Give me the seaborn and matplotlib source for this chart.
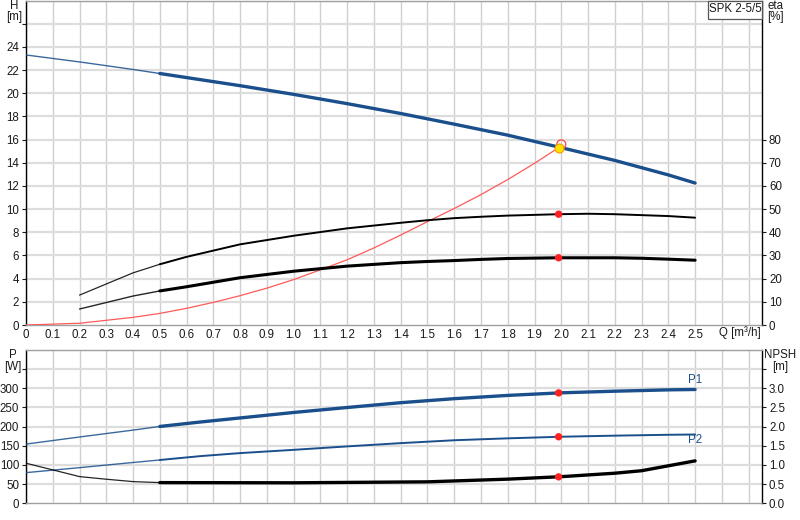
import numpy as np
import pandas as pd
import matplotlib
matplotlib.use("Agg")
import matplotlib.pyplot as plt
from matplotlib.patches import Rectangle
import seaborn as sns

# ---------------- data ----------------
q_h = [0, 0.2, 0.4, 0.5, 0.6, 0.8, 1.0, 1.2, 1.4, 1.6, 1.8, 2.0, 2.2, 2.4, 2.5]
head_m = [23.3, 22.7, 22.05, 21.7, 21.35, 20.65, 19.9, 19.1, 18.25, 17.33, 16.38, 15.3, 14.2, 12.95, 12.25]

q_sys = [0, 0.2, 0.4, 0.5, 0.6, 0.7, 0.8, 0.9, 1.0, 1.1, 1.2, 1.3, 1.4, 1.5, 1.6, 1.7, 1.8, 1.9, 2.0]
sys_head_m = [0, 0.15, 0.66, 1.0, 1.44, 1.95, 2.53, 3.18, 3.92, 4.76, 5.63, 6.65, 7.76, 8.92, 10.05, 11.25, 12.55, 13.95, 15.45]

q_eta = [0.2, 0.4, 0.5, 0.6, 0.8, 1.0, 1.2, 1.4, 1.5, 1.6, 1.7, 1.8, 1.99, 2.1, 2.2, 2.3, 2.4, 2.5]
eta_pump = [12.9, 22.5, 26.2, 29.4, 34.8, 38.5, 41.7, 44.1, 45.2, 46.1, 46.7, 47.2, 47.8, 48.0, 47.8, 47.4, 47.0, 46.3]
eta_total = [6.9, 12.5, 14.7, 16.5, 20.4, 23.2, 25.4, 26.9, 27.4, 27.8, 28.3, 28.7, 29.0, 29.0, 29.0, 28.8, 28.4, 27.95]

q_p = [0, 0.2, 0.4, 0.5, 0.65, 0.8, 1.0, 1.2, 1.4, 1.6, 1.8, 2.0, 2.2, 2.4, 2.5]
p1_w = [154.5, 173, 191, 200.5, 212, 222.7, 237, 250, 262.5, 273, 281.5, 288.3, 292.5, 296, 297]
p2_w = [80, 93, 106.5, 113, 123, 131, 139.5, 148.5, 157, 164.5, 169.5, 173.7, 176.5, 178.8, 179.5]

q_npsh = [0, 0.2, 0.3, 0.4, 0.5, 1.0, 1.5, 1.8, 2.0, 2.2, 2.3, 2.5]
npsh_m = [1.046, 0.697, 0.628, 0.566, 0.54, 0.535, 0.56, 0.63, 0.695, 0.785, 0.85, 1.107]

duty_q = 1.99
duty_head = 15.3
duty_eta_pump = 47.8
duty_eta_total = 29.0
duty_p1 = 288
duty_p2 = 173.6
duty_npsh = 0.69
eta_max_q = 2.0
eta_max_head = 15.58

x_ticks = [round(0.1 * i, 1) for i in range(0, 28)]
x_tick_labels = ["0"] + [f"{v:.1f}" for v in x_ticks[1:26]] + ["", ""]
h_ticks = list(range(0, 27, 2))
h_tick_labels = [str(v) for v in range(0, 25, 2)] + [""]
eta_ticks = list(range(0, 81, 10))
p_ticks = list(range(0, 351, 50))
p_tick_labels = [str(v) for v in range(0, 301, 50)] + [""]
npsh_ticks = [0.5 * i for i in range(0, 8)]
npsh_tick_labels = [f"{0.5*i:.1f}" for i in range(0, 7)] + [""]

title_text = "SPK 2-5/5"

# ---------------- style ----------------
sns.set_style("white")
plt.rcParams["font.family"] = ["Liberation Sans", "DejaVu Sans"]
plt.rcParams["font.size"] = 8

BLUE = "#1a4f8c"
RED = "#ff2020"
TXT = "#1a1a1a"
FS = 8.3

W, H = 800, 520
fig = plt.figure(figsize=(8, 5.2), dpi=100)
fig.patch.set_facecolor("white")

def fx(px):
    return px / W

def fy(py):
    return 1 - py / H

ax1 = fig.add_axes([fx(26), fy(325), fx(762) - fx(26), fy(0.5) - fy(325)])
ax2 = fig.add_axes([fx(26), fy(503.3), fx(762) - fx(26), fy(350) - fy(503.3)])

def style_axes(ax):
    ax.set_xlim(0, 2.75)
    ax.set_xticks(x_ticks)
    for v in x_ticks:
        ax.axvline(v, color="#cfcfcf", lw=1.0, zorder=0)
    ax.spines["left"].set_color("black")
    ax.spines["right"].set_color("black")
    ax.spines["top"].set_color("#a0a0a0")
    ax.spines["bottom"].set_color("#a0a0a0")
    for s in ax.spines.values():
        s.set_linewidth(1.0)

style_axes(ax1)
style_axes(ax2)

def split_line(ax, q, vals, color, thin, thick, q0=0.5, z=3):
    df = pd.DataFrame({"Q": q, "v": vals})
    sns.lineplot(data=df[df.Q <= q0], x="Q", y="v", ax=ax, color=color, lw=thin,
                 estimator=None, sort=False, zorder=z, alpha=0.85)
    sns.lineplot(data=df[df.Q >= q0], x="Q", y="v", ax=ax, color=color, lw=thick,
                 estimator=None, sort=False, zorder=z)

# ---------------- top panel ----------------
ax1.set_ylim(0, 28)
for v in range(2, 29, 2):
    ax1.axhline(v, color="#dddddd", lw=1.6, zorder=0)

split_line(ax1, q_h, head_m, BLUE, 1.0, 2.4)
df_sys = pd.DataFrame({"Q": q_sys, "H": sys_head_m})
sns.lineplot(data=df_sys, x="Q", y="H", ax=ax1, color="#ff5a5a", lw=0.9,
             estimator=None, sort=False, zorder=3)

ax1.set_yticks(h_ticks)
ax1.set_yticklabels(h_tick_labels)
ax1.set_xticks(x_ticks)
ax1.set_xticklabels(x_tick_labels)
ax1.tick_params(axis="x", length=0, pad=3, labelsize=FS, colors=TXT)
ax1.tick_params(axis="y", length=3, pad=2, labelsize=FS, colors=TXT, width=0.8)
ax1.set_xlim(0, 2.75)
ax1.set_xlabel("")
ax1.set_ylabel("")

ax1e = ax1.twinx()
ax1e.set_ylim(0, 140)
for s in ax1e.spines.values():
    s.set_visible(False)
split_line(ax1e, q_eta, eta_pump, "black", 0.9, 1.4)
split_line(ax1e, q_eta, eta_total, "black", 1.0, 2.2)
sns.scatterplot(x=[duty_q, duty_q], y=[duty_eta_pump, duty_eta_total], ax=ax1e,
                color=RED, s=28, edgecolor="none", zorder=5)
ax1e.scatter([eta_max_q], [eta_max_head * 5], s=42, facecolors="none",
             edgecolors="#ff4040", linewidths=0.9, zorder=6)
ax1e.scatter([duty_q], [duty_head * 5], s=42, color="#ffe000",
             edgecolors="#f0a000", linewidths=0.8, zorder=7)
ax1e.set_yticks(eta_ticks)
ax1e.tick_params(axis="y", length=3, pad=2, labelsize=FS, colors=TXT, width=0.8)
ax1e.set_xlim(0, 2.75)
ax1e.set_ylim(0, 140)
ax1e.set_xlabel("")
ax1e.set_ylabel("")

# ---------------- bottom panel ----------------
ax2.set_ylim(0, 400)
for v in range(50, 401, 50):
    ax2.axhline(v, color="#dddddd", lw=1.6, zorder=0)

split_line(ax2, q_p, p1_w, BLUE, 1.0, 2.4)
split_line(ax2, q_p, p2_w, BLUE, 1.0, 1.4)
sns.scatterplot(x=[duty_q, duty_q], y=[duty_p1, duty_p2], ax=ax2,
                color=RED, s=28, edgecolor="none", zorder=5)
ax2.text(2.5, 322, "P1", color=BLUE, fontsize=FS, ha="center", va="center")
ax2.text(2.5, 164, "P2", color=BLUE, fontsize=FS, ha="center", va="center")

ax2.set_yticks(p_ticks)
ax2.set_yticklabels(p_tick_labels)
ax2.set_xticks(x_ticks)
ax2.set_xticklabels([])
ax2.tick_params(axis="x", length=0)
ax2.tick_params(axis="y", length=3, pad=2, labelsize=FS, colors=TXT, width=0.8)
ax2.set_xlim(0, 2.75)
ax2.set_ylim(0, 400)
ax2.set_xlabel("")
ax2.set_ylabel("")

ax2n = ax2.twinx()
for s in ax2n.spines.values():
    s.set_visible(False)
split_line(ax2n, q_npsh, npsh_m, "black", 0.9, 2.4)
sns.scatterplot(x=[duty_q], y=[duty_npsh], ax=ax2n, color=RED, s=28,
                edgecolor="none", zorder=5)
ax2n.set_ylim(0, 4)
ax2n.set_yticks(npsh_ticks)
ax2n.set_yticklabels(npsh_tick_labels)
ax2n.tick_params(axis="y", length=3, pad=2, labelsize=FS, colors=TXT, width=0.8)
ax2n.set_xlim(0, 2.75)
ax2n.set_xlabel("")
ax2n.set_ylabel("")

# ---------------- axis captions ----------------
fig.text(fx(14), fy(6), "H", ha="center", va="center", fontsize=FS, color=TXT)
fig.text(fx(14), fy(17), "[m]", ha="center", va="center", fontsize=FS, color=TXT)
fig.text(fx(767), fy(6), "eta", ha="left", va="center", fontsize=FS, color=TXT)
fig.text(fx(767), fy(17), "[%]", ha="left", va="center", fontsize=FS, color=TXT)
fig.text(fx(13), fy(355), "P", ha="center", va="center", fontsize=FS, color=TXT)
fig.text(fx(13), fy(367), "[W]", ha="center", va="center", fontsize=FS, color=TXT)
fig.text(fx(780), fy(355), "NPSH", ha="center", va="center", fontsize=FS, color=TXT)
fig.text(fx(780), fy(367), "[m]", ha="center", va="center", fontsize=FS, color=TXT)
fig.text(fx(739.5), fy(333), "Q [m\u00b3/h]", ha="center", va="center", fontsize=FS, color=TXT)

box = Rectangle((fx(707.5), fy(19)), fx(762) - fx(707.5), fy(0.5) - fy(19),
                transform=fig.transFigure, facecolor="white", edgecolor="#555555",
                lw=0.9, zorder=10)
fig.add_artist(box)
fig.text(fx(735), fy(9.5), title_text, ha="center", va="center", fontsize=FS,
         color=TXT, zorder=11)

fig.savefig("out.png", dpi=100, facecolor="white")
